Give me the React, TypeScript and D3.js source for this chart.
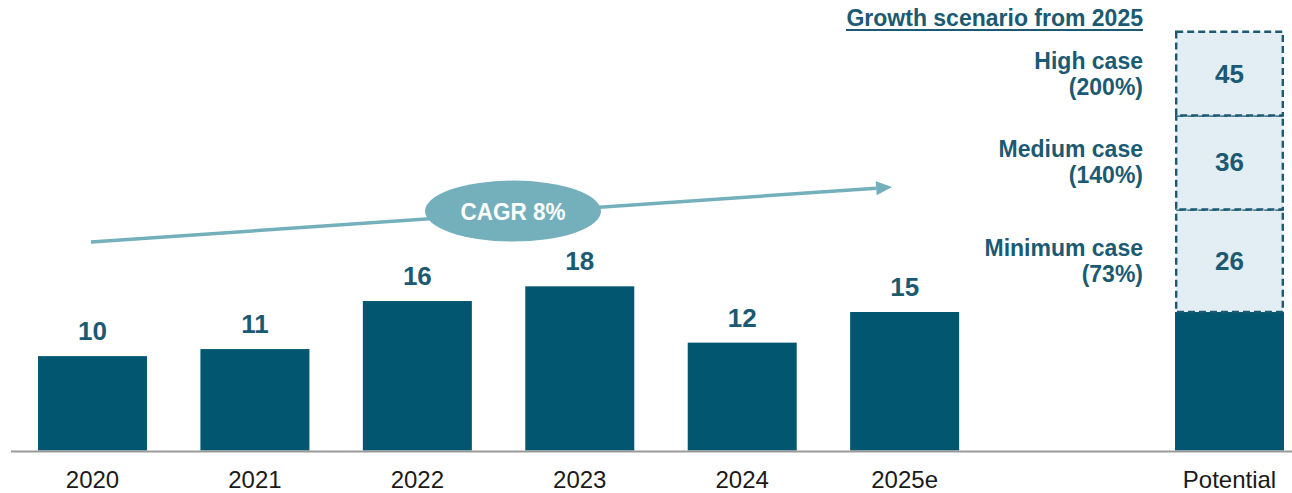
import React from "react";
import * as d3 from "d3";

const categories = ["2020", "2021", "2022", "2023", "2024", "2025e", "", "Potential"];
const years = ["2020", "2021", "2022", "2023", "2024", "2025e"];
const values = [10.14, 10.9, 16.06, 17.64, 11.59, 14.88];
const valueLabels = ["10", "11", "16", "18", "12", "15"];
const potentialBase = 14.88;
const scenarioTops = [25.9, 36.0, 45.0];
const scenarioLabels = ["26", "36", "45"];
const scenarioNames = [
  ["Minimum case", "(73%)"],
  ["Medium case", "(140%)"],
  ["High case", "(200%)"],
];
const title = "Growth scenario from 2025";
const cagrText = "CAGR 8%";

const W = 1292;
const H = 493;
const FONT = "'Liberation Sans', Arial, sans-serif";
const BAR = "#02566F";
const LABEL = "#1B5A72";
const CAGR = "#74B0BC";

export default function App() {
  const x = d3
    .scaleBand<string>()
    .domain(categories.map((c, i) => c || "gap" + i))
    .range([38, 1284])
    .paddingInner(0.329)
    .paddingOuter(0);
  const bw = x.bandwidth();
  const y = d3.scaleLinear().domain([0, 45]).range([450.5, 31.7]);
  const baseY = y(0);

  const potX = x("Potential")!;

  // CAGR arrow (annotation)
  const ax1 = x("2020")! + bw / 2 - 1.5;
  const ay1 = y(22.4);
  const ax2 = x("2025e")! + bw / 2 - 12.5;
  const ay2 = y(28.3);
  const ang = Math.atan2(ay2 - ay1, ax2 - ax1);
  const headLen = 16;
  const headW = 7;
  const bx = ax2 - headLen * Math.cos(ang);
  const by = ay2 - headLen * Math.sin(ang);
  const px = -Math.sin(ang);
  const py = Math.cos(ang);
  const ecx = 513;
  const ecy = ay1 + (ay2 - ay1) * ((ecx - ax1) / (ax2 - ax1)) - 2;

  const bounds = [potentialBase, ...scenarioTops];

  return (
    <svg
      width={W}
      height={H}
      style={{ position: "absolute", left: 0, top: 0, background: "#fff" }}
      fontFamily={FONT}
    >
      {/* CAGR arrow */}
      <line x1={ax1} y1={ay1} x2={bx} y2={by} stroke={CAGR} strokeWidth={3.5} />
      <path
        d={`M${ax2},${ay2} L${bx + px * headW},${by + py * headW} L${bx - px * headW},${by - py * headW} Z`}
        fill={CAGR}
      />
      <ellipse cx={ecx} cy={ecy} rx={88} ry={30.5} fill={CAGR} />
      <text
        x={ecx}
        y={ecy + 8.5}
        textAnchor="middle"
        fill="#fff"
        fontSize={23}
        fontWeight="bold"
        textLength={105}
        lengthAdjust="spacingAndGlyphs"
      >
        {cagrText}
      </text>

      {/* historical bars */}
      {years.map((c, i) => (
        <g key={c}>
          <rect x={x(c)} y={y(values[i])} width={bw} height={baseY - y(values[i])} fill={BAR} />
          <text
            x={x(c)! + bw / 2}
            y={y(values[i]) - 16}
            textAnchor="middle"
            fill={LABEL}
            fontSize={26}
            fontWeight="bold"
          >
            {valueLabels[i]}
          </text>
        </g>
      ))}

      {/* potential bar */}
      <rect x={potX} y={y(potentialBase)} width={bw} height={baseY - y(potentialBase)} fill={BAR} />
      {scenarioTops.map((t, i) => {
        const y0 = y(bounds[i]);
        const y1 = y(t);
        const cy = (y0 + y1) / 2;
        return (
          <g key={i}>
            <rect
              x={potX + 1.2}
              y={y1}
              width={bw - 2.4}
              height={y0 - y1}
              fill="#E2EEF4"
              stroke={LABEL}
              strokeWidth={2.4}
              strokeDasharray="7,4"
            />
            <text
              x={potX + bw / 2}
              y={cy + 9}
              textAnchor="middle"
              fill={LABEL}
              fontSize={26}
              fontWeight="bold"
            >
              {scenarioLabels[i]}
            </text>
            <text x={1143} y={cy - 5} textAnchor="end" fill={LABEL} fontSize={23} fontWeight="bold">
              {scenarioNames[i][0]}
            </text>
            <text x={1143} y={cy + 21} textAnchor="end" fill={LABEL} fontSize={23} fontWeight="bold">
              {scenarioNames[i][1]}
            </text>
          </g>
        );
      })}

      {/* title */}
      <text x={1143} y={26} textAnchor="end" fill={LABEL} fontSize={23} fontWeight="bold">
        {title}
      </text>
      <line x1={846} x2={1143} y1={30} y2={30} stroke={LABEL} strokeWidth={2} />

      {/* axis */}
      <line x1={11} x2={W} y1={baseY + 1} y2={baseY + 1} stroke="#9A9A9A" strokeWidth={2} />
      {categories.map((c, i) =>
        c ? (
          <text
            key={c}
            x={x(c)! + bw / 2}
            y={487.5}
            textAnchor="middle"
            fill="#1a1a1a"
            fontSize={24}
          >
            {c}
          </text>
        ) : null
      )}
    </svg>
  );
}
